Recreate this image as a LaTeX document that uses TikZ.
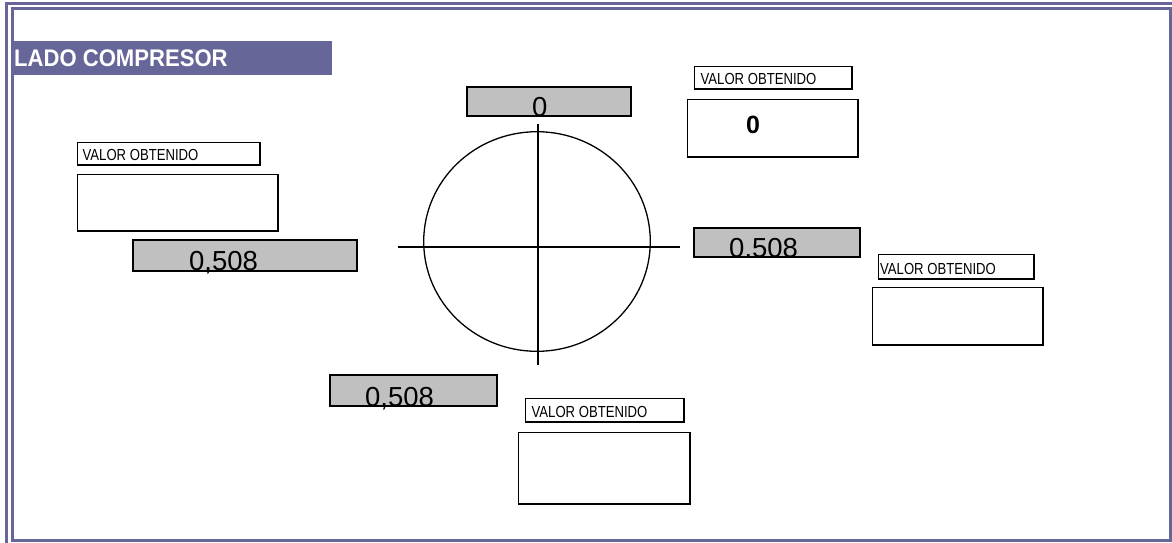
\documentclass[tikz,border=0pt]{standalone}
\usepackage{fontspec}
\setmainfont{Liberation Sans}
\newfontfamily\narrowfont[FakeStretch=0.82]{Liberation Sans}
\newfontfamily\headfont[FakeStretch=0.92]{Liberation Sans}
\usepackage{xcolor}
\definecolor{marco}{RGB}{102,102,153}
\definecolor{gris}{RGB}{192,192,192}

\begin{document}
\begin{tikzpicture}[x=1pt,y=-1pt,
  caja/.style={draw,line width=1.4pt,inner sep=0pt,anchor=north west},
  cajagris/.style={caja,fill=gris},
  etiqueta/.style={anchor=base west,inner sep=0pt,font=\narrowfont\fontsize{16}{18}\selectfont},
  numero/.style={anchor=base west,inner sep=0pt,font=\fontsize{27.5}{30}\selectfont}]
\useasboundingbox (0,0) rectangle (1172,542);
\clip (0,0) rectangle (1172,542);

% marco doble
\draw [marco,line width=3pt] (6.5,580) -- (6.5,3.5) -- (1200,3.5);
\draw [marco,line width=3pt] (12,8.5) rectangle (1170.5,540.5);

% titulo
\node [fill=marco,anchor=north west,minimum width=319pt,minimum height=34pt,inner sep=0pt] (titulo) at (13,40.5) {};
\node [anchor=base west,inner sep=0pt,text=white,font=\headfont\bfseries\fontsize{24}{26}\selectfont] (textotitulo) at (14,66) {LADO COMPRESOR};

% circulo y ejes
\coordinate (centro) at (537,241.5);
\coordinate (ejesup) at (538,124);
\coordinate (ejeinf) at (538,365);
\coordinate (ejeizq) at (398,246.5);
\coordinate (ejeder) at (680,246.5);
\draw [line width=1.3pt] (centro) ellipse [x radius=113.3pt, y radius=109.8pt];
\draw [line width=2pt] (ejesup) -- (ejeinf);
\draw [line width=2pt] (ejeizq) -- (ejeder);

% cajas grises (el borde se vuelve a trazar sobre las cifras)
\node [cajagris,minimum width=163.6pt,minimum height=28.6pt] (grissup) at (466.7,86.7) {};
\node [numero] (numsup) at (532,116.5) {0};
\draw [line width=1.4pt] (grissup.south west) rectangle (grissup.north east);

\node [cajagris,minimum width=223.6pt,minimum height=30.6pt] (grisizq) at (132.7,239.7) {};
\node [numero] (numizq) at (189,270) {0,508};
\draw [line width=1.4pt] (grisizq.south west) rectangle (grisizq.north east);

\node [cajagris,minimum width=165.6pt,minimum height=28.6pt] (grisder) at (693.7,227.7) {};
\node [numero] (numder) at (729,257.5) {0.508};
\draw [line width=1.4pt] (grisder.south west) rectangle (grisder.north east);

\node [cajagris,minimum width=166.6pt,minimum height=30.6pt] (grisinf) at (329.7,374.7) {};
\node [numero] (numinf) at (365,406.5) {0,508};
\draw [line width=1.4pt] (grisinf.south west) rectangle (grisinf.north east);

% etiquetas
\node [caja,minimum width=157.6pt,minimum height=22.6pt] (etqsup) at (693.7,65.7) {};
\node [etiqueta] (txtsup) at (700.5,84.5) {VALOR OBTENIDO};
\node [caja,minimum width=182.6pt,minimum height=22.6pt] (etqizq) at (76.7,141.7) {};
\node [etiqueta] (txtizq) at (82.5,160.5) {VALOR OBTENIDO};
\node [caja,minimum width=155.6pt,minimum height=24.6pt] (etqder) at (877.7,253.7) {};
\node [etiqueta] (txtder) at (880,274.5) {VALOR OBTENIDO};
\node [caja,minimum width=158.6pt,minimum height=23.6pt] (etqinf) at (524.7,397.7) {};
\node [etiqueta] (txtinf) at (531.5,417.5) {VALOR OBTENIDO};

% valores obtenidos
\node [caja,minimum width=170.6pt,minimum height=57.6pt] (valsup) at (686.7,98.7) {};
\node [anchor=base west,inner sep=0pt,font=\bfseries\fontsize{25}{27}\selectfont] (cerosup) at (746,133) {0};
\node [caja,minimum width=200.6pt,minimum height=56.6pt] (valizq) at (76.7,173.7) {};
\node [caja,minimum width=170.6pt,minimum height=57.6pt] (valder) at (871.7,286.7) {};
\node [caja,minimum width=171.6pt,minimum height=71.6pt] (valinf) at (517.7,431.7) {};

\end{tikzpicture}
\end{document}
